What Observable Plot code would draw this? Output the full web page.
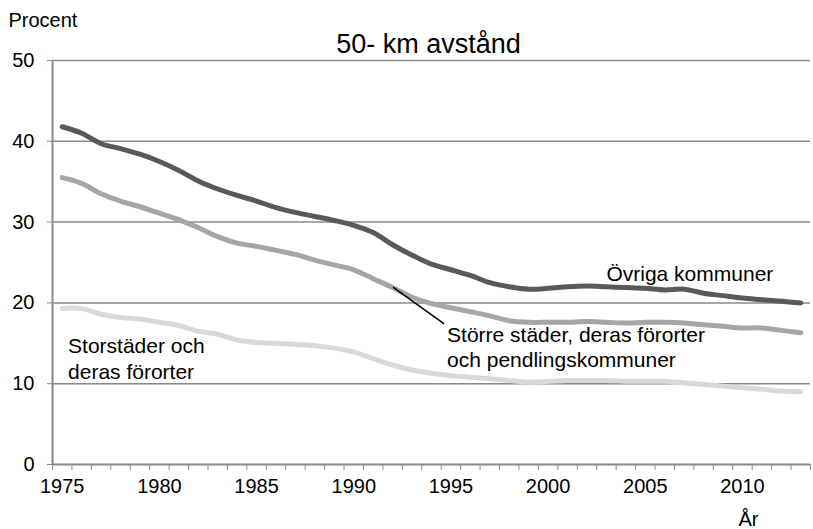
<!DOCTYPE html>
<html>
<head>
<meta charset="utf-8">
<script src="https://cdn.jsdelivr.net/npm/d3@7"></script>
<script src="https://cdn.jsdelivr.net/npm/@observablehq/plot@0.6"></script>
<style>
  html, body { margin: 0; padding: 0; background: #fff; }
</style>
</head>
<body>
<div id="chart"></div>
<script>
const years = [1975,1976,1977,1978,1979,1980,1981,1982,1983,1984,1985,1986,1987,1988,1989,1990,1991,1992,1993,1994,1995,1996,1997,1998,1999,2000,2001,2002,2003,2004,2005,2006,2007,2008,2009,2010,2011,2012,2013];

const ovriga = [41.8,41.0,39.7,39.1,38.4,37.5,36.4,35.1,34.1,33.3,32.6,31.8,31.2,30.7,30.2,29.6,28.7,27.2,25.9,24.8,24.1,23.4,22.5,22.0,21.7,21.8,22.0,22.1,22.0,21.9,21.8,21.6,21.7,21.2,20.9,20.6,20.4,20.2,20.0];

const storre = [35.5,34.8,33.5,32.6,31.9,31.1,30.3,29.3,28.2,27.4,27.0,26.5,26.0,25.3,24.7,24.1,23.0,21.9,20.7,19.9,19.4,18.9,18.4,17.8,17.6,17.6,17.6,17.7,17.6,17.5,17.6,17.6,17.5,17.3,17.1,16.9,16.9,16.6,16.3];

const storstader = [19.3,19.3,18.6,18.2,18.0,17.6,17.2,16.5,16.1,15.4,15.1,15.0,14.85,14.7,14.4,13.9,13.1,12.3,11.7,11.3,11.0,10.8,10.6,10.4,10.2,10.3,10.4,10.4,10.4,10.3,10.3,10.3,10.1,9.9,9.7,9.5,9.3,9.1,9.0];

const yTicks = [0, 10, 20, 30, 40, 50];
const xLabelTicks = [1975, 1980, 1985, 1990, 1995, 2000, 2005, 2010];

const seriesNames = ["Övriga kommuner", "Större städer, deras förorter och pendlingskommuner", "Storstäder och deras förorter"];
const seriesColors = ["#595959", "#a6a6a6", "#d9d9d9"];
const seriesValues = [ovriga, storre, storstader];

const data = [];
seriesNames.forEach((name, i) => {
  years.forEach((yr, j) => data.push({series: name, year: yr, value: seriesValues[i][j]}));
});

const boundaries = [years[0] - 0.5, ...years.map(y => y + 0.5)];

const gray = "#8a8a8a";
const font = "'Liberation Sans', Arial, sans-serif";

const lineMarks = seriesNames.slice().reverse().map((name) => {
  const i = seriesNames.indexOf(name);
  return Plot.line(data.filter(d => d.series === name), {
    x: "year", y: "value", stroke: seriesColors[i], strokeWidth: 5,
    curve: "catmull-rom", strokeLinecap: "round", strokeLinejoin: "round"
  });
});

const chart = Plot.plot({
  width: 813,
  height: 529,
  marginLeft: 52,
  marginRight: 3,
  marginTop: 60,
  marginBottom: 65,
  style: {fontFamily: font, fontSize: "20px", background: "#fff", color: "#000"},
  x: {domain: [boundaries[0], boundaries[boundaries.length - 1]]},
  y: {domain: [0, 50]},
  marks: [
    Plot.gridY(yTicks.filter(d => d > 0), {stroke: gray, strokeOpacity: 1, strokeWidth: 1.5}),
    Plot.ruleY([0], {stroke: gray, strokeWidth: 2}),
    Plot.ruleX([boundaries[0]], {stroke: gray, strokeWidth: 2}),
    Plot.axisY({ticks: yTicks, tickSize: 5, tickPadding: 13, fontSize: 20, stroke: gray, fill: "#000", label: null, tickFormat: "d"}),
    Plot.axisX({ticks: boundaries, tickSize: 6, stroke: gray, text: null, label: null}),
    Plot.axisX({ticks: xLabelTicks, tickSize: 0, tickPadding: 14, fontSize: 20, fill: "#000", label: null, tickFormat: "d"}),
    ...lineMarks,
    Plot.link([0], {x1: () => 1992.02, y1: () => 21.94, x2: () => 1994.65, y2: () => 17.41, stroke: "#000", strokeWidth: 1.5}),
    Plot.text(["Övriga kommuner"], {x: () => 2003.0, y: () => 23.6, text: d => d, textAnchor: "start", fontSize: 21, fill: "#000"}),
    Plot.text(["Större städer, deras förorter\noch pendlingskommuner"], {x: () => 1994.8, y: () => 14.6, text: d => d, textAnchor: "start", fontSize: 21, lineHeight: 1.2, fill: "#000"}),
    Plot.text(["Storstäder och\nderas förorter"], {x: () => 1975.3, y: () => 13.2, text: d => d, textAnchor: "start", fontSize: 21, lineHeight: 1.2, fill: "#000"}),
    Plot.text(["50- km avstånd"], {frameAnchor: "top", lineAnchor: "middle", dx: -3, dy: -16, text: d => d, fontSize: 27, fill: "#000"}),
    Plot.text(["Procent"], {frameAnchor: "top-left", lineAnchor: "middle", dx: -44, dy: -40, textAnchor: "start", text: d => d, fontSize: 20, fill: "#000"}),
    Plot.text(["År"], {frameAnchor: "bottom-right", lineAnchor: "middle", dx: -52, dy: 55, text: d => d, fontSize: 20, fill: "#000"})
  ]
});

document.getElementById("chart").appendChild(chart);
</script>
</body>
</html>
